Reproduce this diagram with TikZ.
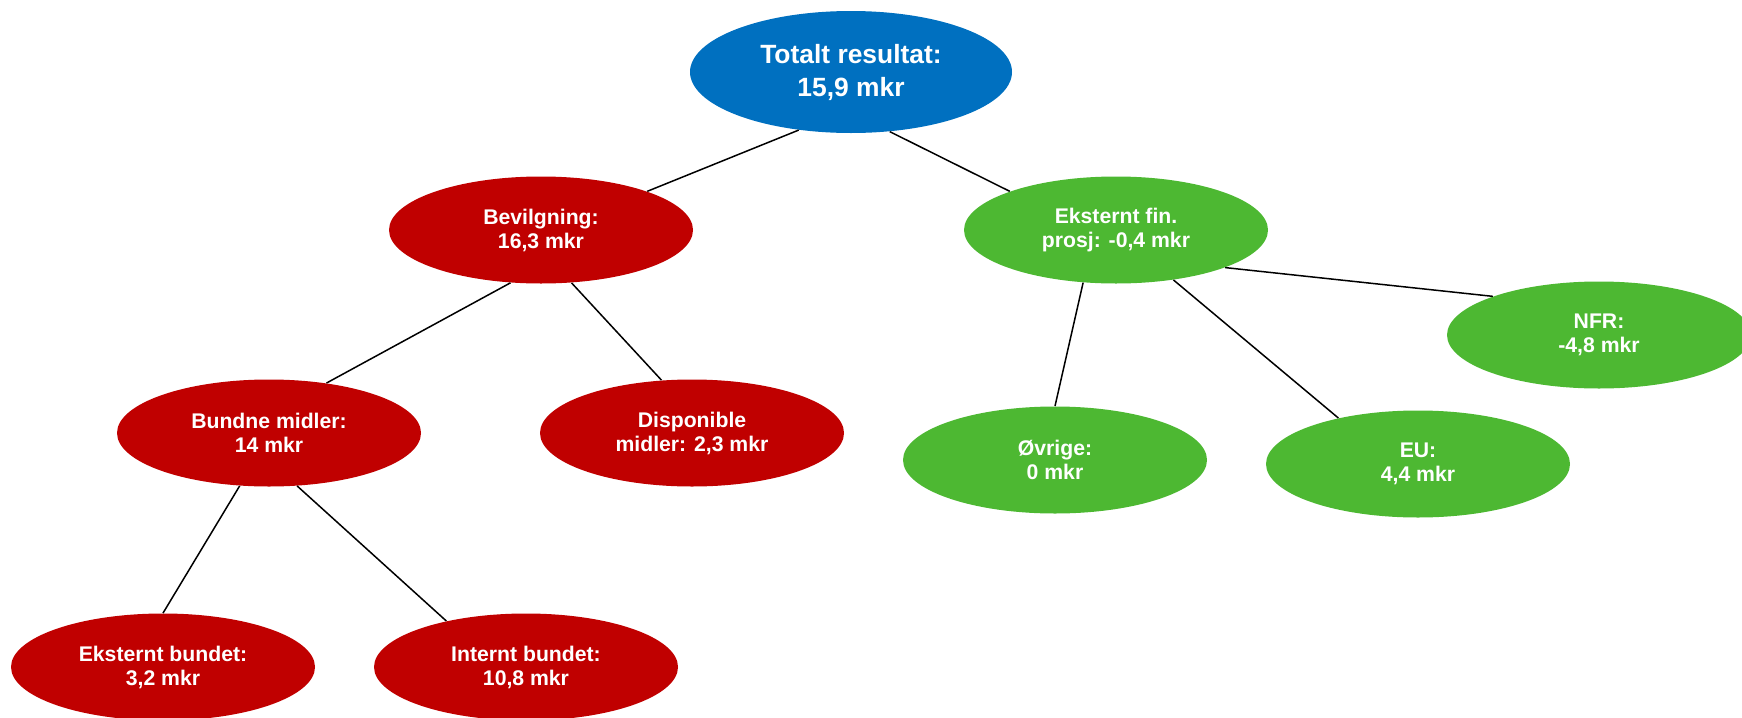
\documentclass[tikz,border=0pt]{standalone}
\usepackage{fontspec}
\setmainfont{Liberation Sans}
\usepackage{xcolor}
\usetikzlibrary{shapes}
\definecolor{topblue}{RGB}{0,112,192}
\definecolor{bevred}{RGB}{192,0,0}
\definecolor{ekgreen}{RGB}{77,184,50}
\begin{document}
\begin{tikzpicture}[x = .5pt, y = .5pt,
    post/.style = {ellipse, inner sep = 0pt, minimum width = 152pt, minimum height = 53.5pt,
      align = center, text = white, font = \fontsize{10.6}{12}\selectfont\bfseries},
    link/.style = {line width = .75pt}]
    \useasboundingbox (0,0) rectangle (1742,-718);
    \node[post, fill = topblue, minimum width = 161pt, minimum height = 61pt,
      font = \fontsize{13.2}{16.5}\selectfont\bfseries] (tot) at (851,-72) {Totalt resultat:\\15,9 mkr};
    \node[post, fill = bevred] (bev) at (541,-230) {Bevilgning:\\16,3 mkr};
    \node[post, fill = ekgreen] (eks) at (1116,-230) {Eksternt fin.\\prosj: -0,4 mkr};
    \node[post, fill = bevred] (bund) at (269,-433) {Bundne midler:\\14 mkr};
    \node[post, fill = bevred] (disp) at (692,-433) {Disponible\\midler: 2,3 mkr};
    \node[post, fill = ekgreen] (ovr) at (1055,-460) {Øvrige:\\0 mkr};
    \node[post, fill = ekgreen] (eu) at (1418,-464) {EU:\\4,4 mkr};
    \node[post, fill = ekgreen] (nfr) at (1599,-335) {NFR:\\-4,8 mkr};
    \node[post, fill = bevred] (eb) at (163,-667) {Eksternt bundet:\\3,2 mkr};
    \node[post, fill = bevred] (ib) at (526,-667) {Internt bundet:\\10,8 mkr};
        % Links
    \draw[link] (tot.228) -- (bev.20);
    \draw[link] (tot.303) -- (eks.160);
    \draw[link] (bev.240) -- (bund.41);
    \draw[link] (bev.300) -- (disp.120);
    \draw[link] (bund.241) -- (eb.90);
    \draw[link] (bund.298) -- (ib.150);
    \draw[link] (eks.238) -- (ovr.90);
    \draw[link] (eks.319) -- (eu.150);
    \draw[link] (eks.341) -- (nfr.160);
  \end{tikzpicture}
\end{document}
